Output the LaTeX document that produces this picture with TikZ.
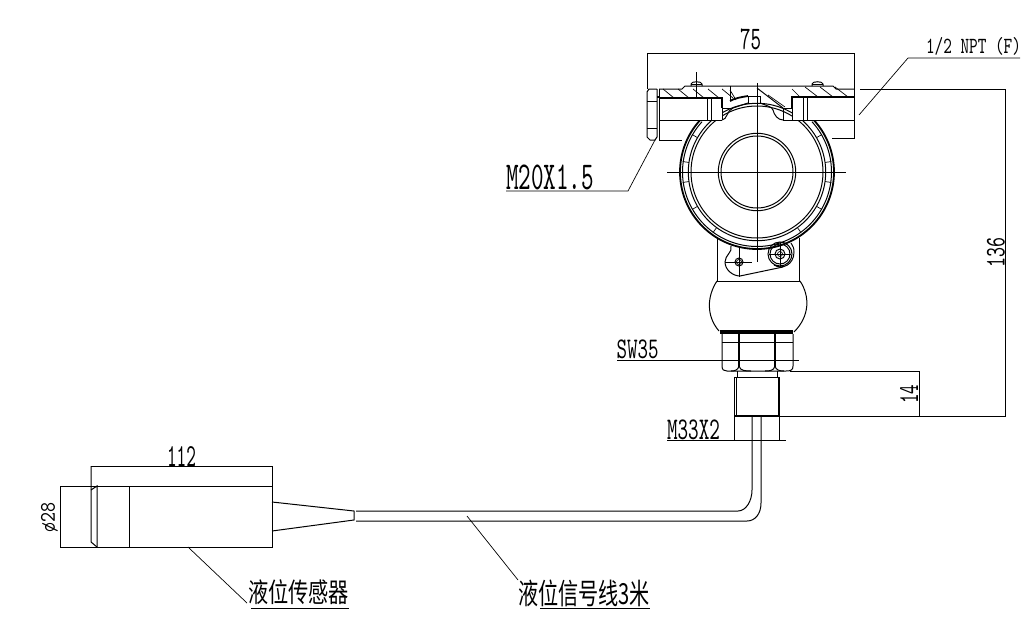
\documentclass[tikz,border=0pt]{standalone}
\usepackage{fontspec}
\usepackage{graphicx}
\usetikzlibrary{calc}
\newfontfamily\cjk{Noto Sans CJK SC}
\newcommand{\cadlat}[3]{\resizebox*{#1pt}{#2pt}{\ttfamily #3}}
\newcommand{\cadcjk}[3]{\resizebox*{#1pt}{#2pt}{\cjk #3}}
\tikzset{
  part/.style={line width=1pt,black},
  heavy/.style={line width=1.8pt,black},
  band/.style={line width=1.3pt,black},
  fine/.style={line width=.7pt,black},
  dimline/.style={line width=.9pt,black},
  lbl/.style={inner sep=0pt,outer sep=0pt,anchor=center,black}
}
\begin{document}
\begin{tikzpicture}[x=1pt,y=-1pt]
\useasboundingbox (0,0) rectangle (1034,627);
\fill[white] (0,0) rectangle (1034,627);
%% round housing
\coordinate (c) at (757,172);
\draw[part] (c) circle[radius=66];
\draw[part] (c) circle[radius=68.7];
\draw[part] (c) circle[radius=38.7];
\draw[part] (c) circle[radius=36];
\draw[heavy] ($(c)+(-42.5:77)$) arc[start angle=-42.5,end angle=222.5,radius=77];
\draw[part] ($(c)+(-42.5:74.5)$) arc[start angle=-42.5,end angle=222.5,radius=74.5];
\foreach \a in {-30,-8,8,30,54,126,150,172,188,210}{
  \draw[fine] ($(c)+(\a:68.7)$) -- ($(c)+(\a:75)$);
}
%% cover rectangles over rings, then the head
\fill[white] (659,98) rectangle (722,120);
\fill[white] (792,97) rectangle (854,120);
\fill[white] (659,86) rectangle (854,98);
%% head outline
\draw[part] (659,89) -- (682,89) -- (685,86) -- (833,86) -- (836,89) -- (854,89);
\draw[part] (659,89) -- (659,140) -- (682,140);
\draw[part] (854,89) -- (854,138) -- (832,138);
\draw[part] (659,120) -- (722,120);
\draw[part] (792,120) -- (854,120);
\draw[band] (659,98) -- (722,98) -- (722,108);
\draw[band] (792,108) -- (792,97) -- (854,97);
\draw[part] (722,108) -- (722,120);
\draw[part] (707,98) -- (707,120);
\draw[part] (711,98) -- (711,120);
\draw[part] (803,97) -- (803,120);
\draw[part] (807,97) -- (807,120);
%% hatching
\foreach \x in {663,678,693,708,722}{ \draw[fine] (\x,89) -- (\x+11,98); }
\foreach \x in {805,820,835}{ \draw[fine] (\x,87) -- (\x+13,97); }
\draw[fine] (792,89) -- (800,97);
%% centre cut
\draw[part] (730,86) -- (730,100);
\draw[part] (722,108) -- (730,108);
\draw[heavy] (730,101) .. controls (735,98) and (742,97) .. (748,96);
\draw[part] (748,96) rectangle (760,103);
\draw[part] (757,88) -- (783,108);
\draw[part] (760,103) .. controls (768,106) and (772,107) .. (773,110) .. controls (774,115) and (778,120) .. (783,120);
\draw[part] (783,108) rectangle (792,120);
\draw[part] (722,120) .. controls (727,120) and (727,110) .. (733,108) -- (748,103);
\draw[fine] (736,100) -- (730,90);
\draw[fine] (768,95) -- (785,107);
%% screws
\draw[part] (691,86) -- (691,84) .. controls (691,81) and (702,81) .. (702,84) -- (702,86);
\draw[part] (812,86) -- (812,84) .. controls (812,81) and (823,81) .. (823,84) -- (823,86);
\draw[part] (696,72) -- (696,97);
\draw[part] (691,84) -- (702,84);
\draw[part] (812,84) -- (823,84);
%% plug nut
\draw[part] (657,89) -- (649,89) -- (647,92) -- (647,137) -- (650,140) -- (655,140) -- (657,137) -- (657,89);
\draw[part] (647,101) -- (657,101);
\draw[part] (647,128) -- (657,128);
\draw[heavy] (657,97) -- (659,97);
%% centre lines
\draw[part] (667,172) -- (846,172);
\draw[part] (757,83) -- (757,262);
%% neck
\draw[part] (717,238) -- (717,281) -- (799,281) -- (799,238);
\draw[part] (717,281) .. controls (707,296) and (706,316) .. (719,331);
\draw[part] (800,281) .. controls (810,296) and (810,316) .. (794,332);
\fill[black] (720,330) rectangle (793,334);
%% locking lever
\draw[part] (731,246) .. controls (733,252) and (725,255) .. (725,262) .. controls (725,270) and (733,276) .. (740,276) -- (783,267);
\draw[part] (774,265) .. controls (782,270) and (794,265) .. (794,252) .. controls (794,248) and (793,246) .. (791,243);
\draw[part] (739,262) circle[radius=4];
\draw[fine] (739,262) circle[radius=2.5];
\draw[part] (780,254) circle[radius=5];
\draw[fine] (780,254) circle[radius=2.5];
\draw[part] (780,254) circle[radius=10];
\draw[part] (780,254) circle[radius=12];
\draw[fine] (725,262) -- (752,262);
\draw[fine] (739,247) -- (739,277);
\draw[fine] (769,254) -- (791,254);
\draw[fine] (780,243) -- (780,268);
%% hex and fitting
\draw[part] (722,334) -- (722,366) .. controls (722,370) and (724,371) .. (727,371) -- (786,371) .. controls (791,371) and (793,370) .. (793,366) -- (793,334);
\draw[part] (722,342) -- (793,342);
\draw[heavy] (739,334) -- (739,367);
\draw[heavy] (775,334) -- (775,367);
\draw[part] (739,366) .. controls (740,371) and (746,371) .. (751,371);
\draw[part] (739,366) .. controls (738,370) and (735,371) .. (731,371);
\draw[part] (775,366) .. controls (774,371) and (769,371) .. (765,371);
\draw[part] (775,366) .. controls (776,370) and (779,371) .. (784,371);
\draw[part] (737,371) -- (737,377);
\draw[part] (777,371) -- (777,377);
\draw[part] (734,377) -- (779,377);
\draw[part] (736,377) -- (736,416);
\draw[part] (778,377) -- (778,416);
\draw[part] (734,377) -- (734,440);
\draw[part] (779,377) -- (779,440);
\draw[heavy] (735,416) -- (779,416);
%% cable
\draw[part] (752,417) -- (752,490) .. controls (752,501) and (746,511) .. (738,511) -- (356,511);
\draw[part] (761,417) -- (761,503) .. controls (761,514) and (755,521) .. (747,521) -- (356,521);
%% sensor
\draw[part] (60,486) rectangle (272,547);
\draw[part] (91,466) -- (91,542) -- (97,547);
\draw[part] (91,490) -- (97,486) -- (97,547);
\draw[part] (129,486) -- (129,547);
\draw[part] (272,466) -- (272,486);
\draw[part] (272,502) -- (354,511) -- (354,520) -- (272,531);
%% dimensions
\draw[dimline] (647,89) -- (647,53) -- (854,53) -- (854,89);
\draw[dimline] (860,89) -- (1005,89) -- (1005,416) -- (779,416);
\draw[dimline] (790,371) -- (919,371) -- (919,416);
\draw[dimline] (91,466) -- (272,466);
\draw[dimline] (617,360) -- (799,360);
\draw[dimline] (667,440) -- (786,440);
%% leaders
\coordinate (npt a) at (859,115); \coordinate (npt b) at (908,58); \coordinate (npt c) at (1020,58);
\draw[fine] (npt a) -- (npt b) -- (npt c);
\coordinate (mtw a) at (655,140); \coordinate (mtw b) at (628,191); \coordinate (mtw c) at (506,191);
\draw[fine] (mtw a) -- (mtw b) -- (mtw c);
\coordinate (sen a) at (188,547); \coordinate (sen b) at (247,603);
\draw[fine] (sen a) -- (sen b);
\draw[dimline] (251,608) -- (349,608);
\coordinate (sig a) at (467,516); \coordinate (sig b) at (518,580);
\draw[fine] (sig a) -- (sig b);
\draw[dimline] (540,608) -- (650,608);
%% labels
\node[lbl] (t75) at (750.5,39.5) {\cadlat{21}{21}{75}};
\node[lbl] (tnpt) at (973.5,46.5) {\cadlat{95}{18}{1/2 NPT (F)}};
\node[lbl] (tm20) at (550,177) {\cadlat{88}{25}{M20X1.5}};
\node[lbl] (tsw) at (637.5,349) {\cadlat{42}{19}{SW35}};
\node[lbl] (tm33) at (693.5,429.5) {\cadlat{53}{20}{M33X2}};
\node[lbl,rotate=90] (t136) at (996,252) {\cadlat{30}{18}{136}};
\node[lbl,rotate=90] (t14) at (909,394) {\cadlat{19}{18}{14}};
\node[lbl] (t112) at (181.5,456.5) {\cadlat{29}{20}{112}};
\node[lbl,rotate=90] (t28) at (49.5,517) {\cadlat{30}{17}{ø28}};
\node[lbl] (tsen) at (298.5,592) {\cadcjk{101}{25}{液位传感器}};
\node[lbl] (tsig) at (584,593.5) {\cadcjk{132}{27}{液位信号线3米}};
\end{tikzpicture}
\end{document}
